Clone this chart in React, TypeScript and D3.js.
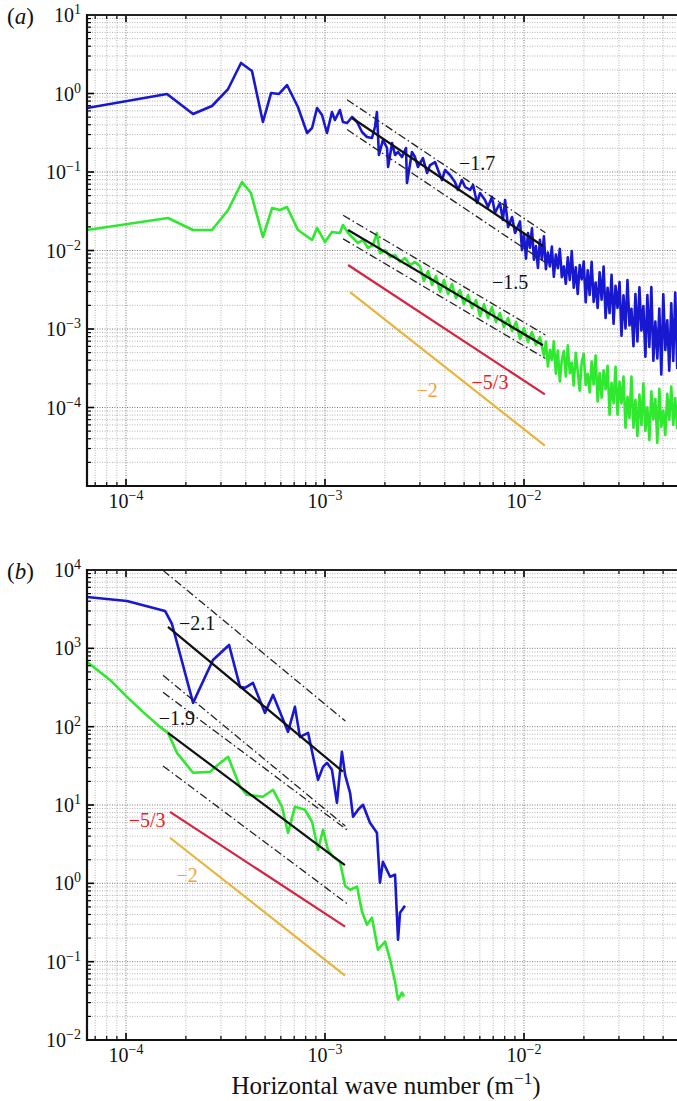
import React from "react";
import * as d3 from "d3";

type P = [number, number]; // [log10 k (m^-1), log10 E]

// ---------------- axis ticks ----------------
const X_TICK_EXP = [-4, -3, -2];
const Y_TICK_EXP_A = [1, 0, -1, -2, -3, -4];
const Y_TICK_EXP_B = [4, 3, 2, 1, 0, -1, -2];

// ---------------- panel (a) spectra ----------------
const blueA: P[] = [
  [-4.196, -0.185], [-3.794, -0.006], [-3.663, -0.261], [-3.568, -0.159], [-3.487, 0.057], [-3.422, 0.389],
  [-3.367, 0.287], [-3.312, -0.363], [-3.271, 0.006], [-3.231, -0.006], [-3.191, 0.108], [-3.136, -0.172],
  [-3.09, -0.503], [-3.065, -0.439], [-3.04, -0.185], [-3.015, -0.274], [-2.99, -0.503], [-2.965, -0.236],
  [-2.95, -0.338], [-2.925, -0.21], [-2.91, -0.363], [-2.889, -0.376], [-2.864, -0.299], [-2.839, -0.363],
  [-2.814, -0.49], [-2.789, -0.554], [-2.764, -0.567], [-2.749, -0.427], [-2.739, -0.236], [-2.729, -0.783],
  [-2.709, -0.592], [-2.688, -0.694], [-2.683, -0.936], [-2.663, -0.631], [-2.648, -0.783], [-2.633, -0.745],
  [-2.613, -0.809], [-2.593, -0.694], [-2.588, -1.14], [-2.563, -0.745], [-2.548, -0.809], [-2.533, -0.936],
  [-2.508, -0.822], [-2.487, -1.013], [-2.472, -0.911], [-2.447, -0.873], [-2.432, -0.975], [-2.412, -1.102],
  [-2.397, -0.975], [-2.372, -1.038], [-2.347, -1.127], [-2.332, -1.229], [-2.312, -1.102], [-2.296, -1.191],
  [-2.271, -1.229], [-2.256, -1.166], [-2.236, -1.395], [-2.221, -1.268], [-2.196, -1.357], [-2.181, -1.446],
  [-2.161, -1.318], [-2.146, -1.522], [-2.121, -1.395], [-2.106, -1.611], [-2.095, -1.357], [-2.08, -1.701],
  [-2.06, -1.573], [-2.045, -1.777],
  [-2.02, -1.63], [-2.01, -1.996], [-2.0, -1.791], [-1.99, -2.103], [-1.98, -1.777], [-1.97, -1.965],
  [-1.96, -1.718], [-1.95, -2.118], [-1.94, -1.944], [-1.93, -2.221], [-1.92, -1.863], [-1.91, -2.113],
  [-1.9, -1.819], [-1.89, -2.238], [-1.88, -2.027], [-1.87, -2.202], [-1.86, -1.95], [-1.85, -2.335],
  [-1.84, -2.053], [-1.83, -2.225], [-1.82, -1.98], [-1.81, -2.339], [-1.8, -2.203], [-1.79, -2.424],
  [-1.78, -2.086], [-1.77, -2.375], [-1.76, -2.008], [-1.75, -2.475], [-1.74, -2.214], [-1.73, -2.553],
  [-1.72, -2.186], [-1.71, -2.368], [-1.7, -2.141], [-1.69, -2.66], [-1.68, -2.252], [-1.67, -2.565],
  [-1.66, -2.143], [-1.65, -2.654], [-1.64, -2.407], [-1.63, -2.732], [-1.62, -2.277], [-1.61, -2.626],
  [-1.6, -2.203], [-1.59, -2.858], [-1.58, -2.476], [-1.57, -2.797], [-1.56, -2.308], [-1.55, -2.934],
  [-1.54, -2.449], [-1.53, -2.731], [-1.52, -2.401], [-1.51, -3.086], [-1.5, -2.57], [-1.49, -2.994],
  [-1.48, -2.375], [-1.47, -2.956], [-1.46, -2.742], [-1.45, -3.22], [-1.44, -2.555], [-1.43, -3.159],
  [-1.42, -2.468], [-1.41, -3.02], [-1.4, -2.708], [-1.39, -3.353], [-1.38, -2.566], [-1.37, -3.228],
  [-1.36, -2.466], [-1.35, -3.404], [-1.34, -2.906], [-1.33, -3.375], [-1.32, -2.741], [-1.31, -3.578],
  [-1.3, -2.557], [-1.29, -3.268], [-1.28, -2.89], [-1.27, -3.531], [-1.26, -2.674], [-1.25, -3.407],
  [-1.24, -2.537], [-1.23, -3.508],
];

const greenA: P[] = [
  [-4.196, -1.739], [-3.789, -1.586], [-3.663, -1.739], [-3.568, -1.739], [-3.487, -1.484], [-3.417, -1.127],
  [-3.372, -1.268], [-3.312, -1.828], [-3.266, -1.459], [-3.226, -1.484], [-3.191, -1.446], [-3.136, -1.739],
  [-3.065, -1.866], [-3.04, -1.713], [-3.0, -1.892], [-2.965, -1.764], [-2.925, -1.777], [-2.91, -1.675],
  [-2.884, -1.777], [-2.859, -1.841], [-2.834, -1.904], [-2.809, -1.866], [-2.784, -1.968], [-2.759, -1.93],
  [-2.739, -1.777], [-2.724, -2.032], [-2.698, -1.994], [-2.673, -2.083], [-2.648, -2.057], [-2.623, -2.146],
  [-2.598, -2.096], [-2.573, -2.185], [-2.548, -2.146], [-2.523, -2.197], [-2.503, -2.389], [-2.482, -2.261],
  [-2.462, -2.439], [-2.442, -2.325], [-2.422, -2.529], [-2.402, -2.376], [-2.382, -2.554], [-2.362, -2.427],
  [-2.342, -2.605], [-2.322, -2.503], [-2.302, -2.682], [-2.281, -2.567], [-2.261, -2.732], [-2.241, -2.631],
  [-2.221, -2.834], [-2.201, -2.682], [-2.181, -2.86], [-2.161, -2.72], [-2.141, -2.911], [-2.121, -2.796],
  [-2.101, -2.975], [-2.08, -2.86], [-2.06, -3.025], [-2.04, -2.911], [-2.02, -3.127], [-2.0, -2.987],
  [-1.98, -3.166], [-1.96, -3.038], [-1.94, -3.204], [-1.92, -3.102],
  [-1.9, -3.34], [-1.89, -3.161], [-1.88, -3.476], [-1.87, -3.266], [-1.86, -3.394], [-1.85, -3.158],
  [-1.84, -3.568], [-1.83, -3.273], [-1.82, -3.669], [-1.81, -3.398], [-1.8, -3.279], [-1.79, -3.604],
  [-1.78, -3.208], [-1.77, -3.563], [-1.76, -3.428], [-1.75, -3.72], [-1.74, -3.302], [-1.73, -3.542],
  [-1.72, -3.785], [-1.71, -3.428], [-1.7, -3.315], [-1.69, -3.713], [-1.68, -3.572], [-1.67, -3.808],
  [-1.66, -3.415], [-1.65, -3.704], [-1.64, -3.337], [-1.63, -3.924], [-1.62, -3.56], [-1.61, -3.874],
  [-1.6, -3.525], [-1.59, -3.768], [-1.58, -3.47], [-1.57, -4.092], [-1.56, -3.684], [-1.55, -3.945],
  [-1.54, -3.483], [-1.53, -4.093], [-1.52, -3.672], [-1.51, -3.949], [-1.5, -3.607], [-1.49, -4.258],
  [-1.48, -3.864], [-1.47, -4.134], [-1.46, -3.607], [-1.45, -4.258], [-1.44, -3.901], [-1.43, -4.362],
  [-1.42, -3.835], [-1.41, -4.223], [-1.4, -3.693], [-1.39, -4.299], [-1.38, -3.998], [-1.37, -4.412],
  [-1.36, -3.794], [-1.35, -4.151], [-1.34, -3.891], [-1.33, -4.45], [-1.32, -3.763], [-1.31, -4.246],
  [-1.3, -4.04], [-1.29, -4.35], [-1.28, -3.826], [-1.27, -4.157], [-1.26, -3.732], [-1.25, -4.221],
  [-1.24, -3.879], [-1.23, -4.275],
];

// ---------------- panel (b) spectra ----------------
const blueB: P[] = [
  [-4.196, 3.656], [-3.995, 3.605], [-3.804, 3.477], [-3.769, 3.311], [-3.663, 2.304], [-3.563, 2.852],
  [-3.482, 3.043], [-3.427, 2.508], [-3.402, 2.495], [-3.362, 2.559], [-3.302, 2.176], [-3.261, 2.406],
  [-3.186, 1.934], [-3.151, 2.253], [-3.126, 1.87], [-3.085, 1.921], [-3.035, 1.321], [-3.01, 1.487],
  [-2.99, 1.538], [-2.965, 1.449], [-2.94, 1.028], [-2.915, 1.679], [-2.899, 1.385], [-2.874, 1.156],
  [-2.859, 0.849], [-2.834, 0.939], [-2.809, 1.003], [-2.774, 0.773], [-2.739, 0.645], [-2.724, 0.008],
  [-2.709, 0.276], [-2.673, 0.084], [-2.648, 0.11], [-2.633, -0.719], [-2.623, -0.375], [-2.598, -0.286],
];

const greenB: P[] = [
  [-4.196, 2.827], [-4.08, 2.597], [-3.995, 2.38], [-3.915, 2.189], [-3.829, 1.997], [-3.789, 1.921],
  [-3.744, 1.666], [-3.663, 1.411], [-3.578, 1.423], [-3.538, 1.513], [-3.487, 1.615], [-3.427, 1.232],
  [-3.392, 1.13], [-3.312, 1.105], [-3.261, 1.194], [-3.216, 0.977], [-3.186, 0.645], [-3.151, 0.977],
  [-3.101, 0.939], [-3.065, 0.786], [-3.035, 0.429], [-3.01, 0.684], [-2.985, 0.429], [-2.96, 0.339],
  [-2.925, 0.276], [-2.899, -0.031], [-2.874, -0.082], [-2.839, -0.043], [-2.814, -0.362], [-2.789, -0.528],
  [-2.764, -0.439], [-2.734, -0.847], [-2.698, -0.745], [-2.673, -0.974], [-2.648, -1.255], [-2.633, -1.485],
  [-2.613, -1.395], [-2.603, -1.446],
];

// ---------------- power-law fits: slope, log10 k range, log10 E at start, band half-width (decades) ----------------
type Fit = { slope: number; k0: number; k1: number; e0: number; band: number; kind: "fit" | "red" | "orange" };
const fitsA: Fit[] = [
  { slope: -1.7, k0: -2.864, k1: -1.905, e0: -0.312, band: 0.19, kind: "fit" },
  { slope: -1.5, k0: -2.884, k1: -1.905, e0: -1.739, band: 0.15, kind: "fit" },
  { slope: -5 / 3, k0: -2.884, k1: -1.895, e0: -2.185, band: 0, kind: "red" },
  { slope: -2, k0: -2.874, k1: -1.895, e0: -2.529, band: 0, kind: "orange" },
];
const fitsB: Fit[] = [
  { slope: -2.1, k0: -3.789, k1: -2.91, e0: 3.273, band: 0.67, kind: "fit" },
  { slope: -1.9, k0: -3.789, k1: -2.9, e0: 1.921, band: 0.47, kind: "fit" },
  { slope: -5 / 3, k0: -3.779, k1: -2.899, e0: 0.913, band: 0, kind: "red" },
  { slope: -2, k0: -3.779, k1: -2.899, e0: 0.582, band: 0, kind: "orange" },
];

// slope labels: text, log10 k, log10 E
type Note = { text: string; k: number; e: number; kind: "fit" | "red" | "orange" };
const notesA: Note[] = [
  { text: "−1.7", k: -2.236, e: -0.885, kind: "fit" },
  { text: "−1.5", k: -2.07, e: -2.401, kind: "fit" },
  { text: "−5/3", k: -2.171, e: -3.675, kind: "red" },
  { text: "−2", k: -2.487, e: -3.777, kind: "orange" },
];
const notesB: Note[] = [
  { text: "−2.1", k: -3.643, e: 3.324, kind: "fit" },
  { text: "−1.9", k: -3.744, e: 2.112, kind: "fit" },
  { text: "−5/3", k: -3.894, e: 0.811, kind: "red" },
  { text: "−2", k: -3.693, e: 0.11, kind: "orange" },
];

// ---------------- styles ----------------
const FONT = "Liberation Serif, DejaVu Serif, serif";
const BLUE = "#1818d0";
const GREEN = "#30e830";
const FIT_COLORS = { fit: "#111111", red: "#d62440", orange: "#e8b43c" };
const NOTE_COLORS = { fit: "#111111", red: "#f01a1a", orange: "#f5a23a" };
const W = 677;
const H = 1101;
const LEFT = 87;
const RIGHT = 677;

const x = d3.scaleLog().domain([1e-4, 1e-2]).range([126, 524]);

function supLabel(exp: number) {
  return exp < 0 ? "−" + Math.abs(exp) : String(exp);
}

function Panel(props: {
  y: d3.ScaleLogarithmic<number, number>;
  yExps: number[];
  blue: P[];
  green: P[];
  fits: Fit[];
  notes: Note[];
  letter: string;
  id: string;
}) {
  const { y, yExps, blue, green, fits, notes, letter, id } = props;
  const [yb, yt] = y.range() as [number, number];
  const [eMin, eMax] = y.domain().map((v) => Math.round(Math.log10(v)));

  const line = d3
    .line<P>()
    .x((d) => x(Math.pow(10, d[0])))
    .y((d) => y(Math.pow(10, d[1])));

  const xGrid: { px: number; major: boolean }[] = [];
  for (let e = -5; e <= 0; e++) {
    for (let m = 1; m <= 9; m++) {
      const px = x(m * Math.pow(10, e));
      if (px > LEFT + 0.5 && px < RIGHT + 5) xGrid.push({ px, major: m === 1 });
    }
  }
  const yGrid: { py: number; major: boolean }[] = [];
  for (let e = eMin; e <= eMax; e++) {
    for (let m = 1; m <= 9; m++) {
      const v = m * Math.pow(10, e);
      if (v < Math.pow(10, eMin) || v > Math.pow(10, eMax)) continue;
      yGrid.push({ py: y(v), major: m === 1 });
    }
  }

  const fitLine = (f: Fit, off: number, ext: number): P[] => {
    const a = f.k0 - ext;
    const b = f.k1 + ext * 0.5;
    return [
      [a, f.e0 + f.slope * (a - f.k0) + off],
      [b, f.e0 + f.slope * (b - f.k0) + off],
    ];
  };

  return (
    <g>
      <defs>
        <clipPath id={id}>
          <rect x={LEFT} y={yt} width={RIGHT - LEFT} height={yb - yt} />
        </clipPath>
      </defs>
      <g clipPath={`url(#${id})`}>
        {yGrid.map((g, i) => (
          <line
            key={"yg" + i}
            x1={LEFT}
            x2={RIGHT}
            y1={g.py}
            y2={g.py}
            stroke={g.major ? "#7a7a7a" : "#a8a8a8"}
            strokeWidth={g.major ? 1 : 0.85}
            strokeDasharray="1,1.5"
          />
        ))}
        {xGrid.map((g, i) => (
          <line
            key={"xg" + i}
            x1={g.px}
            x2={g.px}
            y1={yt}
            y2={yb}
            stroke={g.major ? "#7a7a7a" : "#a8a8a8"}
            strokeWidth={g.major ? 1 : 0.85}
            strokeDasharray="1,1.5"
          />
        ))}
        <path d={line(green) || ""} fill="none" stroke={GREEN} strokeWidth={2.6} strokeLinejoin="round" />
        <path d={line(blue) || ""} fill="none" stroke={BLUE} strokeWidth={2.6} strokeLinejoin="round" />
        {fits
          .filter((f) => f.band > 0)
          .map((f, i) =>
            [f.band, -f.band].map((off, j) => (
              <path
                key={"band" + i + "_" + j}
                d={line(fitLine(f, off, 0.025)) || ""}
                fill="none"
                stroke="#222"
                strokeWidth={1.3}
                strokeDasharray="8,3,1.5,3"
              />
            ))
          )}
        {fits.map((f, i) => (
          <path
            key={"fit" + i}
            d={line(fitLine(f, 0, 0)) || ""}
            fill="none"
            stroke={FIT_COLORS[f.kind]}
            strokeWidth={2.2}
          />
        ))}
        {notes.map((n, i) => (
          <text
            key={"note" + i}
            x={x(Math.pow(10, n.k))}
            y={y(Math.pow(10, n.e))}
            dy="0.35em"
            textAnchor="middle"
            style={{ fontFamily: FONT }}
            fontSize={20}
            fill={NOTE_COLORS[n.kind]}
          >
            {n.text}
          </text>
        ))}
      </g>

      {xGrid.map((g, i) => {
        const len = g.major ? 7 : 4;
        return (
          <g key={"xt" + i}>
            <line x1={g.px} x2={g.px} y1={yb} y2={yb - len} stroke="#000" strokeWidth={g.major ? 1.6 : 1.2} />
            <line x1={g.px} x2={g.px} y1={yt} y2={yt + len} stroke="#000" strokeWidth={g.major ? 1.6 : 1.2} />
          </g>
        );
      })}
      {yGrid.map((g, i) => {
        const len = g.major ? 7 : 4;
        return (
          <line key={"yt" + i} x1={LEFT} x2={LEFT + len} y1={g.py} y2={g.py} stroke="#000" strokeWidth={g.major ? 1.6 : 1.2} />
        );
      })}

      <line x1={LEFT} x2={RIGHT} y1={yt} y2={yt} stroke="#222" strokeWidth={2} />
      <line x1={LEFT} x2={RIGHT} y1={yb} y2={yb} stroke="#111" strokeWidth={2.2} />
      <line x1={LEFT} x2={LEFT} y1={yt - 1} y2={yb + 1} stroke="#111" strokeWidth={2.2} />

      {X_TICK_EXP.map((e) => (
        <text key={"xl" + e} x={x(Math.pow(10, e))} y={yb + 22} textAnchor="middle" style={{ fontFamily: FONT }} fontSize={20} fill="#111">
          <tspan>10</tspan>
          <tspan dy={-8} fontSize={14}>
            {supLabel(e)}
          </tspan>
        </text>
      ))}
      {yExps.map((e) => (
        <text key={"yl" + e} x={81} y={y(Math.pow(10, e)) + 7} textAnchor="end" style={{ fontFamily: FONT }} fontSize={20} fill="#111">
          <tspan>10</tspan>
          <tspan dy={-8} fontSize={14}>
            {supLabel(e)}
          </tspan>
        </text>
      ))}
      <text x={7} y={yt + 9} style={{ fontFamily: FONT }} fontSize={23} fill="#111">
        (<tspan fontStyle="italic">{letter}</tspan>)
      </text>
    </g>
  );
}

export default function App() {
  const yA = d3.scaleLog().domain([1e-5, 1e1]).range([486, 15]);
  const yB = d3.scaleLog().domain([1e-2, 1e4]).range([1040, 570]);
  return (
    <svg
      width={W}
      height={H}
      viewBox={`0 0 ${W} ${H}`}
      style={{ position: "absolute", left: 0, top: 0, background: "#fff" }}
    >
      <rect x={0} y={0} width={W} height={H} fill="#fff" />
      <Panel y={yA} yExps={Y_TICK_EXP_A} blue={blueA} green={greenA} fits={fitsA} notes={notesA} letter="a" id="clipA" />
      <Panel y={yB} yExps={Y_TICK_EXP_B} blue={blueB} green={greenB} fits={fitsB} notes={notesB} letter="b" id="clipB" />
      <text x={386} y={1094} textAnchor="middle" style={{ fontFamily: FONT }} fontSize={25} fill="#111">
        <tspan>Horizontal wave number (m</tspan>
        <tspan dy={-10} fontSize={17}>
          −1
        </tspan>
        <tspan dy={10}>)</tspan>
      </text>
    </svg>
  );
}
